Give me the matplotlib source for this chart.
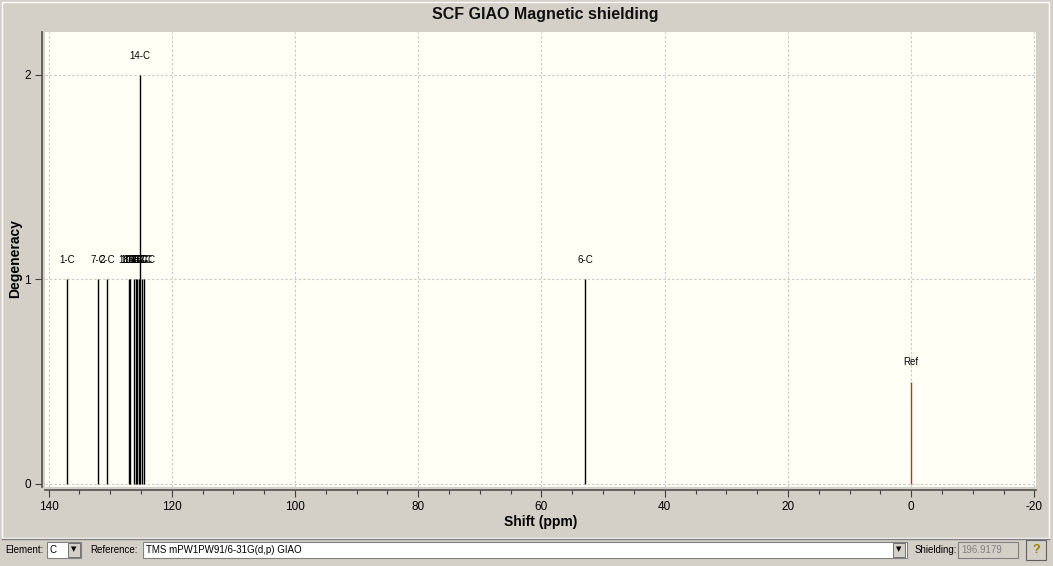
import matplotlib.pyplot as plt
from matplotlib.patches import Rectangle
from matplotlib.ticker import MultipleLocator

# peak data
labels = ['1-C', '7-C', '2-C', '18-C', '10-C', '16-C', '11-C', '12-C', '13-C',
          '14-C', '15-C', '17-C', '6-C']
shifts = [137.0, 132.0, 130.5, 126.9, 126.7, 126.2, 125.8, 125.6, 125.35,
          125.15, 124.9, 124.45, 52.9]
degeneracy = [1, 1, 1, 1, 1, 1, 1, 1, 1, 2, 1, 1, 1]
ref_shift = 0.0
ref_height = 0.5

W, H = 1053, 566
bg = '#d4d0c8'


def fx(px):
    return px / W


def fy(py):
    return 1 - py / H


def box(fig, x, y, w, h, fc, ec='#808080', lw=0.8, z=1):
    fig.patches.append(Rectangle((fx(x), fy(y + h)), w / W, h / H, transform=fig.transFigure,
                                 facecolor=fc, edgecolor=ec, lw=lw, zorder=z))


def main():
    plt.rcParams['font.family'] = ['Liberation Sans', 'DejaVu Sans']
    plt.rcParams['axes.unicode_minus'] = False
    fig = plt.figure(figsize=(W / 100, H / 100), dpi=100, facecolor=bg)

    # panel frame (behind the axes)
    box(fig, 2, 2, 1047, 536, 'none', ec='#ffffff', lw=1, z=-5)
    fig.text(fx(545), fy(15), 'SCF GIAO Magnetic shielding', ha='center', va='center',
             fontsize=11.5, fontweight='bold', color='#101010')

    ax = fig.add_axes([fx(45), fy(487), fx(1036 - 45), (487 - 32) / H])
    ax.set_facecolor('#fffff6')

    for s, d, lab in zip(shifts, degeneracy, labels):
        ax.vlines(s, 0, d, color='black', lw=1)
        ax.text(s, d + 0.07, lab, ha='center', va='bottom', fontsize=7)
    ax.vlines(ref_shift, 0, ref_height, color='#cc2a2a', lw=1)
    ax.text(ref_shift, ref_height + 0.07, 'Ref', ha='center', va='bottom', fontsize=7)

    ax.set_xlim(140.57, -20.25)
    ax.set_ylim(-0.015, 2.21)
    ax.xaxis.set_major_locator(MultipleLocator(20))
    ax.xaxis.set_minor_locator(MultipleLocator(5))
    ax.yaxis.set_major_locator(MultipleLocator(1))

    ax.grid(True, which='major', color='#c8c8c8', ls=(0, (2, 2)), lw=0.8)
    ax.set_axisbelow(True)

    for side in ['top', 'right']:
        ax.spines[side].set_visible(False)
    ax.spines['left'].set_position(('outward', 2.2))
    ax.spines['bottom'].set_position(('outward', 2.2))
    for side in ['left', 'bottom']:
        ax.spines[side].set_color('#505050')
        ax.spines[side].set_linewidth(1.2)

    ax.tick_params(axis='both', which='major', length=5, width=0.8, color='#404040',
                   labelsize=8.5, pad=3)
    ax.tick_params(axis='x', which='minor', length=3, width=0.8, color='#404040')
    ax.set_xticks([140, 120, 100, 80, 60, 40, 20, 0, -20])
    ax.set_xlabel('Shift (ppm)', fontsize=10, fontweight='bold', labelpad=1)
    fig.text(fx(15), fy(259), 'Degeneracy', rotation=90, ha='center', va='center',
             fontsize=10, fontweight='bold')

    # bottom toolbar
    fig.lines.append(plt.Line2D([fx(2), fx(1049)], [fy(539), fy(539)], transform=fig.transFigure,
                                color='#808080', lw=1))
    ty = fy(550)
    fig.text(fx(5), ty, 'Element:', fontsize=7, va='center')
    box(fig, 47, 542, 34, 16, 'white')
    fig.text(fx(50), ty, 'C', fontsize=7, va='center')
    box(fig, 68, 543, 12, 14, bg, ec='#606060', lw=0.6, z=2)
    fig.text(fx(74), fy(549), '▼', fontsize=5, ha='center', va='center',
             family=['DejaVu Sans'])
    fig.text(fx(90), ty, 'Reference:', fontsize=7, va='center')
    box(fig, 143, 542, 764, 16, 'white')
    fig.text(fx(146), ty, 'TMS mPW1PW91/6-31G(d,p) GIAO', fontsize=7, va='center')
    box(fig, 893, 543, 12, 14, bg, ec='#606060', lw=0.6, z=2)
    fig.text(fx(899), fy(549), '▼', fontsize=5, ha='center', va='center',
             family=['DejaVu Sans'])
    fig.text(fx(915), ty, 'Shielding:', fontsize=7, va='center')
    box(fig, 958, 542, 60, 16, bg)
    fig.text(fx(961), ty, '196.9179', fontsize=7, va='center', color='#808080')
    box(fig, 1026, 540, 20, 20, bg, ec='#606060')
    fig.text(fx(1036), fy(550), '?', fontsize=9, ha='center', va='center',
             fontweight='bold', color='#a08000')

    fig.savefig('out.png', dpi=100, facecolor=bg)


if __name__ == '__main__':
    main()
